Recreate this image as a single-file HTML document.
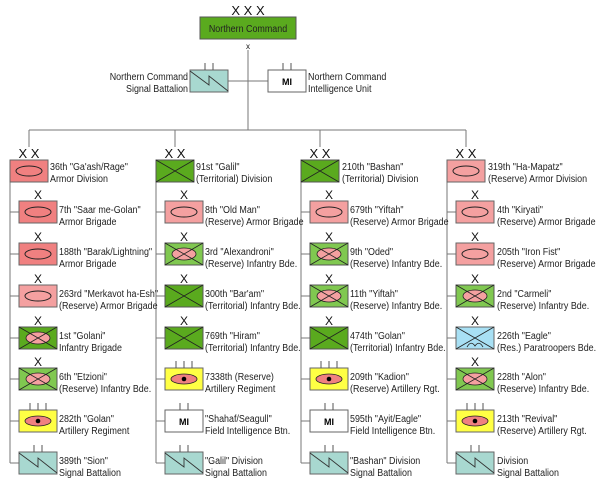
<!DOCTYPE html>
<html><head><meta charset="utf-8"><style>
html,body{margin:0;padding:0;background:#fff;}
svg{display:block;font-family:"Liberation Sans",Arial,sans-serif;}
.t{font-size:10.5px;fill:#222;}
.x{font-size:12px;fill:#111;text-anchor:middle;}
</style></head><body>
<svg width="600" height="483" viewBox="0 0 600 483" xmlns="http://www.w3.org/2000/svg">
<defs>
<g id="armA"><rect x="0" y="0" width="38" height="22" fill="#f08080" stroke="#666" stroke-width="1"/><ellipse cx="19" cy="11" rx="13" ry="5" fill="none" stroke="#222" stroke-width="1"/></g>
<g id="armR"><rect x="0" y="0" width="38" height="22" fill="#f4a0a0" stroke="#666" stroke-width="1"/><ellipse cx="19" cy="11" rx="13" ry="5" fill="none" stroke="#222" stroke-width="1"/></g>
<g id="infA"><rect x="0" y="0" width="38" height="22" fill="#5aaa1e" stroke="#555" stroke-width="1"/><ellipse cx="19" cy="11" rx="12" ry="6" fill="#f4a0a0" stroke="#222" stroke-width="0.8"/><path d="M0 0L38 22M38 0L0 22" stroke="#222" stroke-width="0.8"/></g>
<g id="infR"><rect x="0" y="0" width="38" height="22" fill="#80c850" stroke="#555" stroke-width="1"/><ellipse cx="19" cy="11" rx="12" ry="6" fill="#f4a0a0" stroke="#222" stroke-width="0.8"/><path d="M0 0L38 22M38 0L0 22" stroke="#222" stroke-width="0.8"/></g>
<g id="terr"><rect x="0" y="0" width="38" height="22" fill="#5aaa1e" stroke="#555" stroke-width="1"/><path d="M0 0L38 22M38 0L0 22" stroke="#222" stroke-width="0.8"/></g>
<g id="art"><rect x="0" y="0" width="38" height="22" fill="#ffff44" stroke="#666" stroke-width="1"/><ellipse cx="19" cy="11" rx="13" ry="5" fill="#f08080" stroke="#222" stroke-width="0.8"/><circle cx="19" cy="11" r="2.3" fill="#000"/><path d="M11 0V-7M19 0V-7M27 0V-7" stroke="#555"/></g>
<g id="mi"><rect x="0" y="0" width="38" height="22" fill="#fff" stroke="#666" stroke-width="1"/><path d="M15 0V-7M23 0V-7" stroke="#555"/></g>
<g id="sig"><rect x="0" y="0" width="38" height="22" fill="#a8d8d0" stroke="#666" stroke-width="1"/><path d="M0 1L19 15V6L38 21" fill="none" stroke="#333" stroke-width="0.9"/><path d="M15 0V-7M23 0V-7" stroke="#555"/></g>
<g id="para"><rect x="0" y="0" width="38" height="22" fill="#a8e0f4" stroke="#666" stroke-width="1"/><path d="M0 0L38 22M38 0L0 22" stroke="#222" stroke-width="0.8"/><path d="M11 20Q15 13 19 19Q23 13 27 20" fill="none" stroke="#222" stroke-width="0.8"/></g>
</defs>

<!-- top -->
<text x="248" y="15" class="x" style="font-size:13px">X X X</text>
<rect x="200" y="17" width="96" height="22" fill="#5aaa1e" stroke="#555"/>
<text transform="translate(248,32) scale(0.85,1)" class="t" text-anchor="middle">Northern Command</text>
<text x="248" y="49" class="x" style="font-size:8px">x</text>
<path d="M248 50V130M228 81H268M29 130H466M29 130V147M175 130V147M320 130V147M466 130V147" stroke="#777" fill="none"/>
<use href="#sig" x="190" y="70"/>
<use href="#mi" x="268" y="70"/>
<text x="287" y="85" text-anchor="middle" style="font-size:9px;font-weight:bold">MI</text>
<text transform="translate(188,80) scale(0.85,1)" class="t" text-anchor="end">Northern Command</text>
<text transform="translate(188,92) scale(0.85,1)" class="t" text-anchor="end">Signal Battalion</text>
<text transform="translate(308,80) scale(0.85,1)" class="t">Northern Command</text>
<text transform="translate(308,92) scale(0.85,1)" class="t">Intelligence Unit</text>

<!-- trunks -->
<path d="M10 182V463M156 182V463M301 182V463M447 182V463" stroke="#777"/>
<path d="M10 212H19M10 254H19M10 296H19M10 338H19M10 379H19M10 421H19M10 463H19
M156 212H165M156 254H165M156 296H165M156 338H165M156 379H165M156 421H165M156 463H165
M301 212H310M301 254H310M301 296H310M301 338H310M301 379H310M301 421H310M301 463H310
M447 212H456M447 254H456M447 296H456M447 338H456M447 379H456M447 421H456M447 463H456" stroke="#777"/>

<!-- divisions -->
<g class="x" style="font-size:13px"><text x="29" y="158">X X</text><text x="175" y="158">X X</text><text x="320" y="158">X X</text><text x="466" y="158">X X</text></g>
<use href="#armA" x="10" y="160"/><use href="#terr" x="156" y="160"/><use href="#terr" x="301" y="160"/><use href="#armR" x="447" y="160"/>
<g class="t">
<text transform="translate(50,170) scale(0.85,1)">36th "Ga'ash/Rage"</text><text transform="translate(50,182) scale(0.85,1)">Armor Division</text>
<text transform="translate(196,170) scale(0.85,1)">91st "Galil"</text><text transform="translate(196,182) scale(0.85,1)">(Territorial) Division</text>
<text transform="translate(342,170) scale(0.85,1)">210th "Bashan"</text><text transform="translate(342,182) scale(0.85,1)">(Territorial) Division</text>
<text transform="translate(488,170) scale(0.85,1)">319th "Ha-Mapatz"</text><text transform="translate(488,182) scale(0.85,1)">(Reserve) Armor Division</text>
</g>

<!-- X marks -->
<g class="x">
<text x="38" y="199">X</text><text x="38" y="241">X</text><text x="38" y="283">X</text><text x="38" y="325">X</text><text x="38" y="366">X</text>
<text x="184" y="199">X</text><text x="184" y="241">X</text><text x="184" y="283">X</text><text x="184" y="325">X</text>
<text x="329" y="199">X</text><text x="329" y="241">X</text><text x="329" y="283">X</text><text x="329" y="325">X</text>
<text x="475" y="199">X</text><text x="475" y="241">X</text><text x="475" y="283">X</text><text x="475" y="325">X</text><text x="475" y="366">X</text>
</g>

<!-- col1 -->
<use href="#armA" x="19" y="201"/><use href="#armA" x="19" y="243"/><use href="#armR" x="19" y="285"/><use href="#infA" x="19" y="327"/><use href="#infR" x="19" y="368"/><use href="#art" x="19" y="410"/><use href="#sig" x="19" y="452"/>
<!-- col2 -->
<use href="#armR" x="165" y="201"/><use href="#infR" x="165" y="243"/><use href="#terr" x="165" y="285"/><use href="#terr" x="165" y="327"/><use href="#art" x="165" y="368"/><use href="#mi" x="165" y="410"/><use href="#sig" x="165" y="452"/>
<!-- col3 -->
<use href="#armR" x="310" y="201"/><use href="#infR" x="310" y="243"/><use href="#infR" x="310" y="285"/><use href="#terr" x="310" y="327"/><use href="#art" x="310" y="368"/><use href="#mi" x="310" y="410"/><use href="#sig" x="310" y="452"/>
<!-- col4 -->
<use href="#armR" x="456" y="201"/><use href="#armR" x="456" y="243"/><use href="#infR" x="456" y="285"/><use href="#para" x="456" y="327"/><use href="#infR" x="456" y="368"/><use href="#art" x="456" y="410"/><use href="#sig" x="456" y="452"/>
<g style="font-size:9px;font-weight:bold" text-anchor="middle"><text x="184" y="425">MI</text><text x="329" y="425">MI</text></g>

<g class="t">
<text transform="translate(59,213) scale(0.85,1)">7th "Saar me-Golan"</text><text transform="translate(59,225) scale(0.85,1)">Armor Brigade</text>
<text transform="translate(59,255) scale(0.85,1)">188th "Barak/Lightning"</text><text transform="translate(59,267) scale(0.85,1)">Armor Brigade</text>
<text transform="translate(59,297) scale(0.85,1)">263rd "Merkavot ha-Esh"</text><text transform="translate(59,309) scale(0.85,1)">(Reserve) Armor Brigade</text>
<text transform="translate(59,339) scale(0.85,1)">1st "Golani"</text><text transform="translate(59,351) scale(0.85,1)">Infantry Brigade</text>
<text transform="translate(59,380) scale(0.85,1)">6th "Etzioni"</text><text transform="translate(59,392) scale(0.85,1)">(Reserve) Infantry Bde.</text>
<text transform="translate(59,422) scale(0.85,1)">282th "Golan"</text><text transform="translate(59,434) scale(0.85,1)">Artillery Regiment</text>
<text transform="translate(59,464) scale(0.85,1)">389th "Sion"</text><text transform="translate(59,476) scale(0.85,1)">Signal Battalion</text>

<text transform="translate(205,213) scale(0.85,1)">8th "Old Man"</text><text transform="translate(205,225) scale(0.85,1)">(Reserve) Armor Brigade</text>
<text transform="translate(205,255) scale(0.85,1)">3rd "Alexandroni"</text><text transform="translate(205,267) scale(0.85,1)">(Reserve) Infantry Bde.</text>
<text transform="translate(205,297) scale(0.85,1)">300th "Bar'am"</text><text transform="translate(205,309) scale(0.85,1)">(Territorial) Infantry Bde.</text>
<text transform="translate(205,339) scale(0.85,1)">769th "Hiram"</text><text transform="translate(205,351) scale(0.85,1)">(Territorial) Infantry Bde.</text>
<text transform="translate(205,380) scale(0.85,1)">7338th (Reserve)</text><text transform="translate(205,392) scale(0.85,1)">Artillery Regiment</text>
<text transform="translate(205,422) scale(0.85,1)">"Shahaf/Seagull"</text><text transform="translate(205,434) scale(0.85,1)">Field Intelligence Btn.</text>
<text transform="translate(205,464) scale(0.85,1)">"Galil" Division</text><text transform="translate(205,476) scale(0.85,1)">Signal Battalion</text>

<text transform="translate(350,213) scale(0.85,1)">679th "Yiftah"</text><text transform="translate(350,225) scale(0.85,1)">(Reserve) Armor Brigade</text>
<text transform="translate(350,255) scale(0.85,1)">9th "Oded"</text><text transform="translate(350,267) scale(0.85,1)">(Reserve) Infantry Bde.</text>
<text transform="translate(350,297) scale(0.85,1)">11th "Yiftah"</text><text transform="translate(350,309) scale(0.85,1)">(Reserve) Infantry Bde.</text>
<text transform="translate(350,339) scale(0.85,1)">474th "Golan"</text><text transform="translate(350,351) scale(0.85,1)">(Territorial) Infantry Bde.</text>
<text transform="translate(350,380) scale(0.85,1)">209th "Kadion"</text><text transform="translate(350,392) scale(0.85,1)">(Reserve) Artillery Rgt.</text>
<text transform="translate(350,422) scale(0.85,1)">595th "Ayit/Eagle"</text><text transform="translate(350,434) scale(0.85,1)">Field Intelligence Btn.</text>
<text transform="translate(350,464) scale(0.85,1)">"Bashan" Division</text><text transform="translate(350,476) scale(0.85,1)">Signal Battalion</text>

<text transform="translate(497,213) scale(0.85,1)">4th "Kiryati"</text><text transform="translate(497,225) scale(0.85,1)">(Reserve) Armor Brigade</text>
<text transform="translate(497,255) scale(0.85,1)">205th "Iron Fist"</text><text transform="translate(497,267) scale(0.85,1)">(Reserve) Armor Brigade</text>
<text transform="translate(497,297) scale(0.85,1)">2nd "Carmeli"</text><text transform="translate(497,309) scale(0.85,1)">(Reserve) Infantry Bde.</text>
<text transform="translate(497,339) scale(0.85,1)">226th "Eagle"</text><text transform="translate(497,351) scale(0.85,1)">(Res.) Paratroopers Bde.</text>
<text transform="translate(497,380) scale(0.85,1)">228th "Alon"</text><text transform="translate(497,392) scale(0.85,1)">(Reserve) Infantry Bde.</text>
<text transform="translate(497,422) scale(0.85,1)">213th "Revival"</text><text transform="translate(497,434) scale(0.85,1)">(Reserve) Artillery Rgt.</text>
<text transform="translate(497,464) scale(0.85,1)">Division</text><text transform="translate(497,476) scale(0.85,1)">Signal Battalion</text>
</g>
</svg>
</body></html>
